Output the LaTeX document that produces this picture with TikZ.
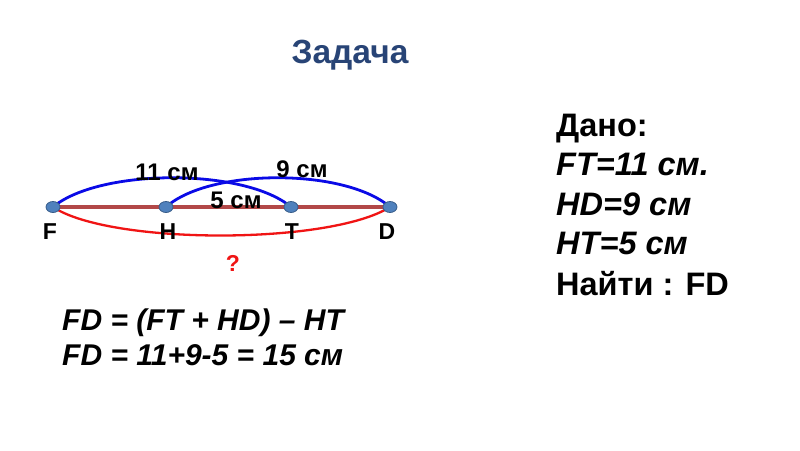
\documentclass[tikz,border=0pt]{standalone}
\usepackage{fontspec}
\setmainfont{Liberation Sans}
\definecolor{titleblue}{RGB}{40,68,118}
\definecolor{segred}{RGB}{178,72,72}
\definecolor{dotfill}{RGB}{79,129,189}
\definecolor{dotdraw}{RGB}{56,93,138}
\definecolor{arcblue}{RGB}{10,10,230}
\definecolor{arcred}{RGB}{240,20,20}
\tikzset{
  pt/.style={ellipse, minimum width=14pt, minimum height=11pt, inner sep=0pt, fill=dotfill, draw=dotdraw, line width=0.8pt},
  ptlabel/.style={font=\fontsize{23}{27}\selectfont\bfseries, text=black, inner sep=0pt},
  arclabel/.style={font=\fontsize{24}{28}\selectfont\bfseries, text=black, inner sep=0pt},
  given/.style={font=\fontsize{32.5}{36}\selectfont\bfseries, anchor=base west, inner sep=0pt},
  givenit/.style={font=\fontsize{32.5}{36}\selectfont\bfseries\itshape, anchor=base west, inner sep=0pt},
  formula/.style={font=\fontsize{30}{34}\selectfont\bfseries\itshape, anchor=base west, inner sep=0pt},
  bluearc/.style={draw=arcblue, line width=2.8pt},
  redarc/.style={draw=arcred, line width=2.3pt},
}
\usetikzlibrary{shapes.geometric}
\begin{document}
\begin{tikzpicture}[x=1pt,y=-1pt]
\useasboundingbox[fill=white] (0,0) rectangle (800,450);
\node[font=\fontsize{33.5}{38}\selectfont\bfseries, text=titleblue, anchor=base, inner sep=0pt] (title) at (350,63) {Задача};

\coordinate (F) at (53,207);
\coordinate (H) at (166,207);
\coordinate (T) at (291,207);
\coordinate (D) at (390,207);

% arcs
\draw[redarc] (F) .. controls (110,245) and (330,245) .. (D);
\draw[bluearc] (F) .. controls (100,168) and (245,168) .. (T);
\draw[bluearc] (H) .. controls (210,168) and (345,168) .. (D);
% segment
\draw[draw=segred, line width=4.5pt] (F) -- (D);

\node[pt] (pF) at (F) {};
\node[pt] (pH) at (H) {};
\node[pt] (pT) at (T) {};
\node[pt] (pD) at (D) {};

\node[ptlabel] (lF) at (50,232) {F};
\node[ptlabel] (lH) at (168,232) {H};
\node[ptlabel] (lT) at (292,232) {T};
\node[ptlabel] (lD) at (387,232) {D};

\node[arclabel] (l11) at (167,172) {11 см};
\node[arclabel] (l9) at (302,169) {9 см};
\node[arclabel] (l5) at (236,200) {5 см};
\node[font=\fontsize{23}{27}\selectfont\bfseries, text=arcred, inner sep=0pt] (q) at (233,263) {?};

\node[given] (g1) at (556,136) {Дано:};
\node[givenit] (g2) at (556,175) {FT=11 см.};
\node[givenit] (g3) at (556,215) {HD=9 см};
\node[givenit] (g4) at (556,254) {HT=5 см};
\node[given] (g5) at (556,295) {Найти : FD};

\node[formula] (f1) at (62,330) {FD = (FT + HD) – HT};
\node[formula] (f2) at (62,365) {FD = 11+9-5 = 15 см};
\end{tikzpicture}
\end{document}
